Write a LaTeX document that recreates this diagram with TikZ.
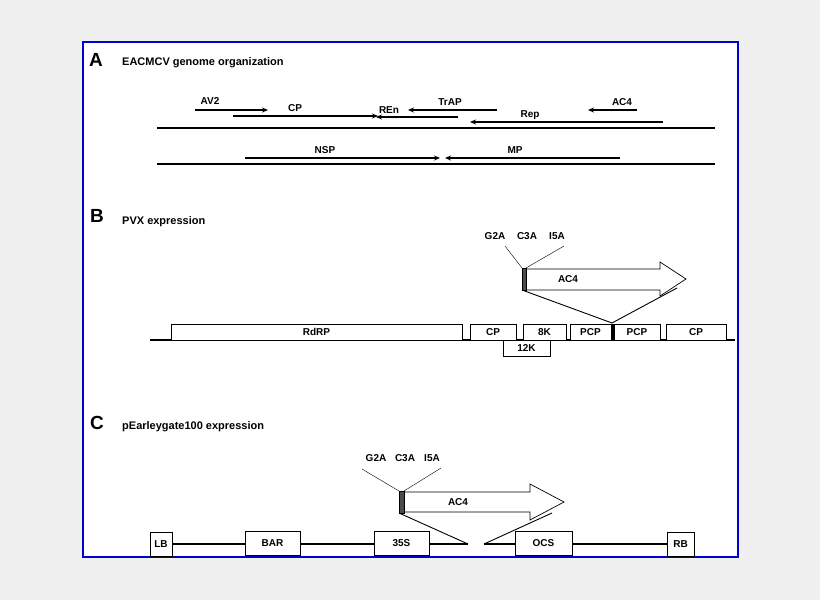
\documentclass[tikz,border=0pt]{standalone}
\usepackage{fontspec}
\setmainfont{Liberation Sans}
\usetikzlibrary{arrows.meta}
\tikzset{%
    gene/.style={line width=1.6pt,-{Stealth[length=6pt,width=5pt]}},
    lbl/.style={font=\bfseries\fontsize{10}{10}\selectfont,inner sep=0pt},
    ttl/.style={font=\bfseries\fontsize{11}{11}\selectfont,anchor=west,inner sep=0pt},
    panel/.style={font=\bfseries\fontsize{19}{19}\selectfont,inner sep=0pt},
    box/.style={draw,line width=1pt,fill=white,inner sep=0pt,font=\bfseries\fontsize{10}{10}\selectfont},
    insert/.style={draw,line width=0.7pt,fill=white}
}
\begin{document}
\begin{tikzpicture}[x=1pt,y=-1pt]
    \useasboundingbox (0,0) rectangle (820,600);
    \fill[gray!12] (0,0) rectangle (820,600);
    \draw[blue!80!black,line width=2pt,fill=white] (83,42) rectangle (738,557);

    % A
    \node[panel] (pa) at (96,60){A};
    \node[ttl] (ta) at (122,63){EACMCV genome organization};
    \coordinate (l1a) at (157,128); \coordinate (l1b) at (715,128);
    \coordinate (l2a) at (157,164); \coordinate (l2b) at (715,164);
    \draw[line width=1.5pt] (l1a) -- (l1b);
    \draw[line width=1.5pt] (l2a) -- (l2b);
    \coordinate (av2s) at (195,110); \coordinate (av2e) at (268,110);
    \coordinate (cps) at (233,116); \coordinate (cpe) at (378,116);
    \coordinate (rens) at (458,117); \coordinate (rene) at (376,117);
    \coordinate (traps) at (497,110); \coordinate (trape) at (408,110);
    \coordinate (reps) at (663,122); \coordinate (repe) at (470,122);
    \coordinate (ac4s) at (637,110); \coordinate (ac4e) at (588,110);
    \coordinate (nsps) at (245,158); \coordinate (nspe) at (440,158);
    \coordinate (mps) at (620,158); \coordinate (mpe) at (445,158);
    \draw[gene] (av2s) -- (av2e);
    \draw[gene] (cps) -- (cpe);
    \draw[gene] (rens) -- (rene);
    \draw[gene] (traps) -- (trape);
    \draw[gene] (reps) -- (repe);
    \draw[gene] (ac4s) -- (ac4e);
    \draw[gene] (nsps) -- (nspe);
    \draw[gene] (mps) -- (mpe);
    \node[lbl] (nav2) at (210,101){AV2};
    \node[lbl] (ncp) at (295,108){CP};
    \node[lbl] (nren) at (389,110){REn};
    \node[lbl] (ntrap) at (450,102){TrAP};
    \node[lbl] (nrep) at (530,115){Rep};
    \node[lbl] (nac4) at (622,102){AC4};
    \node[lbl] (nnsp) at (325,150){NSP};
    \node[lbl] (nmp) at (515,150){MP};

    % B
    \node[panel] (pb) at (97,216){B};
    \node[ttl] (tb) at (122,222){PVX expression};
    \coordinate (bla) at (150,340); \coordinate (blb) at (735,340);
    \draw[line width=1.5pt] (bla) -- (blb);
    \node[box,minimum width=47pt,minimum height=16pt] (k12) at (526.5,348){12K};
    \node[box,minimum width=291pt,minimum height=16pt] (rdrp) at (316.5,332){RdRP};
    \node[box,minimum width=46pt,minimum height=16pt] (cp1) at (493,332){CP};
    \node[box,minimum width=43pt,minimum height=16pt] (k8) at (544.5,332){8K};
    \node[box,minimum width=41pt,minimum height=16pt] (pcp1) at (590.5,332){PCP};
    \node[box,minimum width=46pt,minimum height=16pt] (pcp2) at (637,332){PCP};
    \node[box,minimum width=60pt,minimum height=16pt] (cp2) at (696,332){CP};
    \draw[line width=2pt] (612.5,324) -- (612.5,340);
    \draw[insert] (526,269) -- (660,269) -- (660,262) -- (686,279) -- (660,296)
        -- (660,290) -- (526,290) -- cycle;
    \fill[gray!60!black,draw=black,line width=0.6pt] (522,268) rectangle (526,290);
    \node[lbl] (ac4b) at (568,279){AC4};
    \coordinate (bins) at (612,323);
    \draw[line width=0.9pt] (522,290) -- (bins);
    \draw[line width=0.9pt] (677,288) -- (bins);
    \node[lbl] (bg2a) at (495,236){G2A};
    \node[lbl] (bc3a) at (527,236){C3A};
    \node[lbl] (bi5a) at (557,236){I5A};
    \draw[line width=0.4pt] (505,246) -- (522,268);
    \draw[line width=0.4pt] (564,246) -- (526,268);

    % C
    \node[panel] (pc) at (97,423){C};
    \node[ttl] (tc) at (122,427){pEarleygate100 expression};
    \coordinate (cla) at (150,544); \coordinate (clm) at (468,544);
    \coordinate (cln) at (484,544); \coordinate (clb) at (694,544);
    \draw[line width=1.2pt] (cla) -- (clm);
    \draw[line width=1.2pt] (cln) -- (clb);
    \node[box,minimum width=22pt,minimum height=24pt] (lb) at (161,544){LB};
    \node[box,minimum width=55pt,minimum height=24pt] (bar) at (272.5,543){BAR};
    \node[box,minimum width=55pt,minimum height=24pt] (s35) at (401.5,543){35S};
    \node[box,minimum width=57pt,minimum height=24pt] (ocs) at (543.5,543){OCS};
    \node[box,minimum width=27pt,minimum height=24pt] (rb) at (680.5,544){RB};
    \draw[insert] (404,492) -- (530,492) -- (530,484) -- (564,502) -- (530,520)
        -- (530,512) -- (404,512) -- cycle;
    \fill[gray!60!black,draw=black,line width=0.6pt] (399,491) rectangle (404,513);
    \node[lbl] (ac4c) at (458,502){AC4};
    \draw[line width=0.9pt] (399,513) -- (clm);
    \draw[line width=0.9pt] (552,513) -- (cln);
    \node[lbl] (cg2a) at (376,458){G2A};
    \node[lbl] (cc3a) at (405,458){C3A};
    \node[lbl] (ci5a) at (432,458){I5A};
    \draw[line width=0.4pt] (362,469) -- (399,491);
    \draw[line width=0.4pt] (441,468) -- (404,491);
\end{tikzpicture}
\end{document}
